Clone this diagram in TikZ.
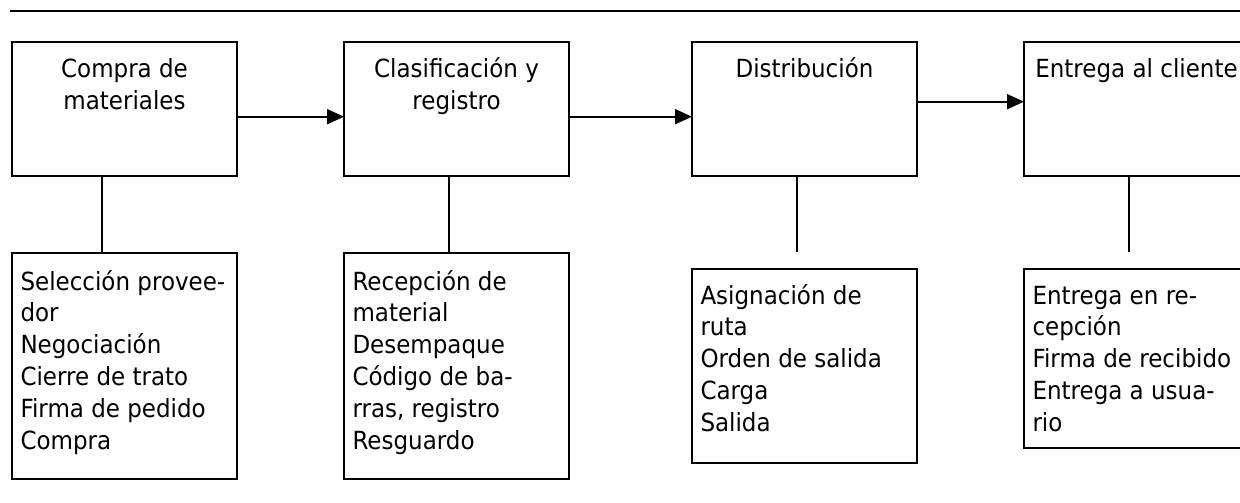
\documentclass[tikz,border=0pt]{standalone}
\usepackage{fontspec}
\setmainfont{DejaVu Sans}[FakeStretch=0.92]
\usetikzlibrary{arrows.meta}
\begin{document}
\begin{tikzpicture}[x=1pt,y=-1pt,
  box/.style={draw, line width=2pt, minimum width=225pt, inner sep=0pt, outer sep=0pt, anchor=north west},
  txt/.style={inner sep=0pt, outer sep=0pt, font=\fontsize{25}{31.8}\selectfont},
  conn/.style={line width=1.9pt},
  arr/.style={conn, -{Triangle[length=17pt,width=15pt]}}]
\useasboundingbox (0,0) rectangle (1240,503);
\clip (0,0) rectangle (1240,503);
% rule at the top
\coordinate (L0) at (10,11);
\coordinate (L1) at (1240,11);
\draw[line width=2pt] (L0) -- (L1);
% top boxes
\node[box, minimum height=134pt] (t1) at (12,42) {};
\node[box, minimum height=134pt] (t2) at (344,42) {};
\node[box, minimum height=134pt] (t3) at (692,42) {};
\node[box, minimum height=134pt] (t4) at (1024,42) {};
\node[txt, anchor=north, align=center] (t1l) at ([yshift=-13.3pt]t1.north) {\strut Compra de\\materiales};
\node[txt, anchor=north, align=center] (t2l) at ([yshift=-13.3pt]t2.north) {\strut Clasificación y\\registro};
\node[txt, anchor=north, align=center] (t3l) at ([yshift=-13.3pt]t3.north) {\strut Distribución};
\node[txt, anchor=north, align=center] (t4l) at ([yshift=-13.3pt]t4.north) {\strut Entrega al cliente};
% bottom boxes
\node[box, minimum height=226pt] (s1) at (12,253) {};
\node[box, minimum height=226pt] (s2) at (344,253) {};
\node[box, minimum height=194pt] (s3) at (692,269) {};
\node[box, minimum height=179pt] (s4) at (1024,269) {};
\node[txt, anchor=north west, align=left] (s1l) at ([xshift=8.5pt,yshift=-14.8pt]s1.north west)
  {\strut Selección provee-\\dor\\Negociación\\Cierre de trato\\Firma de pedido\\Compra};
\node[txt, anchor=north west, align=left] (s2l) at ([xshift=8.5pt,yshift=-14.8pt]s2.north west)
  {\strut Recepción de\\material\\Desempaque\\Código de ba-\\rras, registro\\Resguardo};
\node[txt, anchor=north west, align=left] (s3l) at ([xshift=8.5pt,yshift=-12.8pt]s3.north west)
  {\strut Asignación de\\ruta\\Orden de salida\\Carga\\Salida};
\node[txt, anchor=north west, align=left] (s4l) at ([xshift=8.5pt,yshift=-12.8pt]s4.north west)
  {\strut Entrega en re-\\cepción\\Firma de recibido\\Entrega a usua-\\rio};
% arrows between steps
\draw[arr] ([yshift=-7.7pt]t1.east) -- ([yshift=-7.7pt]t2.west);
\draw[arr] ([yshift=-7.7pt]t2.east) -- ([yshift=-7.7pt]t3.west);
\draw[arr] ([yshift=7.3pt]t3.east) -- ([yshift=7.3pt]t4.west);
% vertical links
\draw[conn] ([xshift=-22.8pt]t1.south) -- ([xshift=-22.8pt]t1.south |- s1.north);
\draw[conn] ([xshift=-7.2pt]t2.south) -- ([xshift=-7.2pt]t2.south |- s2.north);
\coordinate (e3) at (796.7,252);
\coordinate (e4) at (1129.3,252);
\draw[conn] (t3.south -| e3) -- (e3);
\draw[conn] (t4.south -| e4) -- (e4);
\end{tikzpicture}
\end{document}
